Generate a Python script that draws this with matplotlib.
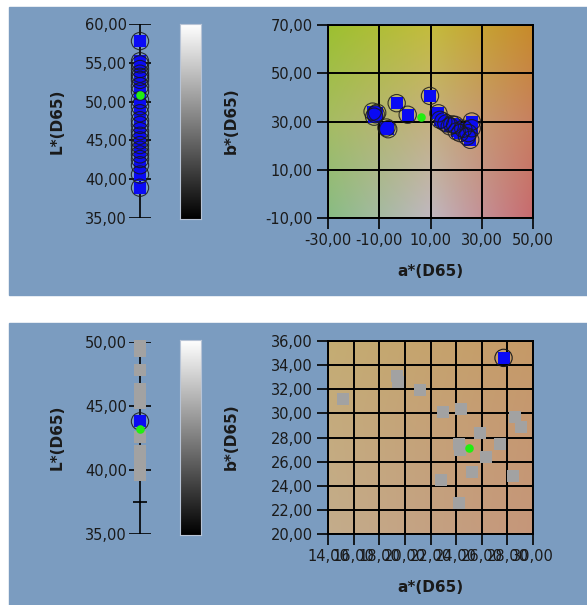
import numpy as np
import matplotlib.pyplot as plt
from matplotlib.patches import Rectangle

# Lot 1 : tous les points (a*, b*, L*)
top_a = [-12.6, -11.4, -12.0, -10.8, -7.2, -6.5, -3.2, 1.1, 9.8, 13.1, 13.7, 15.0,
         16.2, 17.5, 19.6, 20.2, 21.5, 22.8, 24.2, 25.5, 26.1, 26.1, 24.8, 18.5]
top_b = [34.1, 33.0, 32.0, 33.6, 27.5, 26.8, 37.6, 32.8, 40.6, 33.4, 30.7, 30.0,
         29.2, 28.0, 28.6, 25.9, 25.2, 27.0, 23.8, 22.4, 30.0, 27.2, 25.2, 28.8]
top_L = [57.8, 55.2, 54.8, 54.2, 53.6, 52.8, 52.0, 51.3, 50.2, 49.4, 48.5, 47.6,
         47.0, 46.2, 45.6, 45.0, 44.4, 43.8, 43.2, 42.6, 41.8, 40.6, 38.9, 53.2]
top_ref = (6.1, 31.7, 50.9)  # a*, b*, L* de la référence

# Lot 2 : points gris, un point sélectionné, la référence
bot_a = [15.2, 19.35, 19.5, 21.2, 23.0, 24.4, 24.2, 24.3, 25.9, 26.3, 25.2,
         22.8, 24.2, 27.4, 28.4, 28.6, 29.1]
bot_b = [31.2, 33.1, 32.6, 31.9, 30.1, 30.4, 27.5, 27.0, 28.4, 26.4, 25.1,
         24.5, 22.6, 27.5, 24.8, 29.7, 28.9]
bot_L = [49.7, 49.3, 47.8, 46.1, 45.6, 45.2, 42.6, 41.1, 40.6, 40.0, 39.6,
         49.5, 45.8, 41.5, 40.3, 46.3, 39.8]
bot_sel = (27.7, 34.6, 43.8)
bot_ref = (25.0, 27.1, 43.2)

top_L_ticks = [35, 40, 45, 50, 55, 60]
top_a_ticks = [-30, -10, 10, 30, 50]
top_b_ticks = [-10, 10, 30, 50, 70]
bot_L_ticks = [35, 40, 45, 50]
bot_a_ticks = list(range(14, 31, 2))
bot_b_ticks = list(range(20, 37, 2))

W, H = 587, 605
PANEL = '#7b9cc0'
TXT = '#1a1a1a'
BLUE = '#0a0af5'
GREEN = '#22ee11'
GRAY = '#a2a2a2'

# couleurs de fond du plan a*b* (points de contrôle)
ctrl_a = np.array([-30.0, 10.0, 50.0])
ctrl_b = np.array([-10.0, 30.0, 70.0])
ctrl_rgb = np.array([
    ['#88bc84', '#c0b8c0', '#c86a6e'],
    ['#a6bc62', '#c4b080', '#c88060'],
    ['#9cc030', '#c4bc3c', '#c88a2a'],
])


def hex2rgb(h):
    return [int(h[i:i + 2], 16) / 255 for i in (1, 3, 5)]


ctrl = np.array([[hex2rgb(c) for c in row] for row in ctrl_rgb])


def ab_field(a, b):
    A, B = np.meshgrid(a, b)
    out = np.zeros(A.shape + (3,))
    for ch in range(3):
        rows = [np.interp(A, ctrl_a, ctrl[i, :, ch]) for i in range(3)]
        t = np.clip((B - ctrl_b[0]) / (ctrl_b[1] - ctrl_b[0]), 0, 2)
        lo = rows[0] + (rows[1] - rows[0]) * np.clip(t, 0, 1)
        hi = rows[1] + (rows[2] - rows[1]) * np.clip(t - 1, 0, 1)
        out[..., ch] = np.where(t <= 1, lo, hi)
    return out


def box(x0, y0, x1, y1):
    return [x0 / W, 1 - y1 / H, (x1 - x0) / W, (y1 - y0) / H]


plt.rcParams['font.family'] = 'DejaVu Sans'
fig = plt.figure(figsize=(W / 100, H / 100), dpi=100)
fig.patch.set_facecolor('white')

for y0, y1 in [(7, 295), (323, 605)]:
    fig.patches.append(Rectangle((9 / W, 1 - y1 / H), (W - 9) / W, (y1 - y0) / H,
                                 transform=fig.transFigure, color=PANEL, zorder=-10))


def fmt(t):
    return f'{t:.2f}'.replace('.', ',')


def strip(y0, y1, lims, ticks, L_vals, colors, circled, ref_L, extra=None):
    ax = fig.add_axes(box(129, y0, 151, y1))
    ax.set_xlim(0, 22)
    ax.set_ylim(*lims)
    ax.patch.set_alpha(0)
    for s in ax.spines.values():
        s.set_visible(False)
    ax.set_xticks([])
    ax.set_yticks(ticks)
    ax.set_yticklabels([fmt(t) for t in ticks])
    ax.tick_params(axis='y', length=0, pad=1.5, labelsize=10.5, labelcolor=TXT)
    ax.vlines(11, lims[0], lims[1], color='black', lw=1.2, zorder=1)
    ax.hlines(ticks, 0, 22, color='black', lw=1.2, zorder=1)
    if extra is not None:
        ax.hlines(extra, 4, 18, color='black', lw=1.2, zorder=1)
    x = np.full(len(L_vals), 11.0)
    ax.scatter(x, L_vals, s=74, marker='s', c=colors, lw=0, zorder=3, clip_on=False)
    cx = [11.0] * len(circled)
    ax.scatter(cx, circled, s=155, marker='o', facecolors='none',
               edgecolors='#1a1a1a', lw=0.8, alpha=0.85, zorder=4, clip_on=False)
    ax.scatter([11], [ref_L], s=38, marker='o', c=GREEN, lw=0, zorder=5, clip_on=False)
    return ax


def gray_bar(y0, y1):
    ax = fig.add_axes(box(180, y0, 201, y1))
    ax.imshow(np.linspace(1, 0, 256)[:, None], cmap='gray', vmin=0, vmax=1,
              aspect='auto', extent=[0, 1, 0, 1])
    ax.set_xticks([])
    ax.set_yticks([])
    for s in ax.spines.values():
        s.set_edgecolor('#b8c4d6')
        s.set_linewidth(0.8)


def ab_plane(y0, y1, xlim, ylim, xt, yt):
    ax = fig.add_axes(box(328, y0, 533, y1))
    a = np.linspace(xlim[0], xlim[1], 200)
    b = np.linspace(ylim[0], ylim[1], 200)
    ax.imshow(ab_field(a, b), origin='lower', aspect='auto',
              extent=[xlim[0], xlim[1], ylim[0], ylim[1]], zorder=0)
    ax.set_xlim(*xlim)
    ax.set_ylim(*ylim)
    ax.set_xticks(xt)
    ax.set_yticks(yt)
    ax.set_xticklabels([fmt(t) for t in xt])
    ax.set_yticklabels([fmt(t) for t in yt])
    ax.tick_params(direction='out', length=8, width=1.2, color='black',
                   labelsize=10.5, labelcolor=TXT, pad=3)
    ax.grid(True, color='black', lw=1.4, zorder=1)
    ax.set_axisbelow(False)
    for s in ax.spines.values():
        s.set_linewidth(1.4)
        s.set_color('black')
    return ax


# ---- lot 1 ----
strip(24, 218, (35, 60), top_L_ticks, top_L, [BLUE] * len(top_L), top_L, top_ref[2])
gray_bar(24, 219)
ax1 = ab_plane(25, 218, (-30, 50), (-10, 70), top_a_ticks, top_b_ticks)
ax1.scatter(top_a, top_b, s=74, marker='s', c=BLUE, lw=0, zorder=3)
ax1.scatter(top_a, top_b, s=155, marker='o', facecolors='none',
            edgecolors='#1a1a1a', lw=0.8, alpha=0.85, zorder=4)
ax1.scatter([top_ref[0]], [top_ref[1]], s=38, c=GREEN, lw=0, zorder=5)

# ---- lot 2 ----
strip(342, 534, (35, 50), bot_L_ticks, bot_L + [bot_sel[2]],
      [GRAY] * len(bot_L) + [BLUE], [bot_sel[2]], bot_ref[2], extra=37.5)
gray_bar(340, 535)
ax2 = ab_plane(341, 534, (14, 30), (20, 36), bot_a_ticks, bot_b_ticks)
ax2.scatter(bot_a, bot_b, s=74, marker='s', c=GRAY, lw=0, zorder=3)
ax2.scatter([bot_sel[0]], [bot_sel[1]], s=74, marker='s', c=BLUE, lw=0, zorder=3)
ax2.scatter([bot_sel[0]], [bot_sel[1]], s=155, marker='o', facecolors='none',
            edgecolors='#1a1a1a', lw=0.8, zorder=4)
ax2.scatter([bot_ref[0]], [bot_ref[1]], s=38, c=GREEN, lw=0, zorder=5)

# titres des axes
lab = dict(fontsize=11, fontweight='bold', color=TXT, ha='center', va='center')
for yc, yx in [(121, 272), (437, 588)]:
    fig.text(57 / W, 1 - yc / H, 'L*(D65)', rotation=90, **lab)
    fig.text(231 / W, 1 - yc / H, 'b*(D65)', rotation=90, **lab)
    fig.text(430 / W, 1 - yx / H, 'a*(D65)', **lab)

fig.savefig('out.png', dpi=100)
